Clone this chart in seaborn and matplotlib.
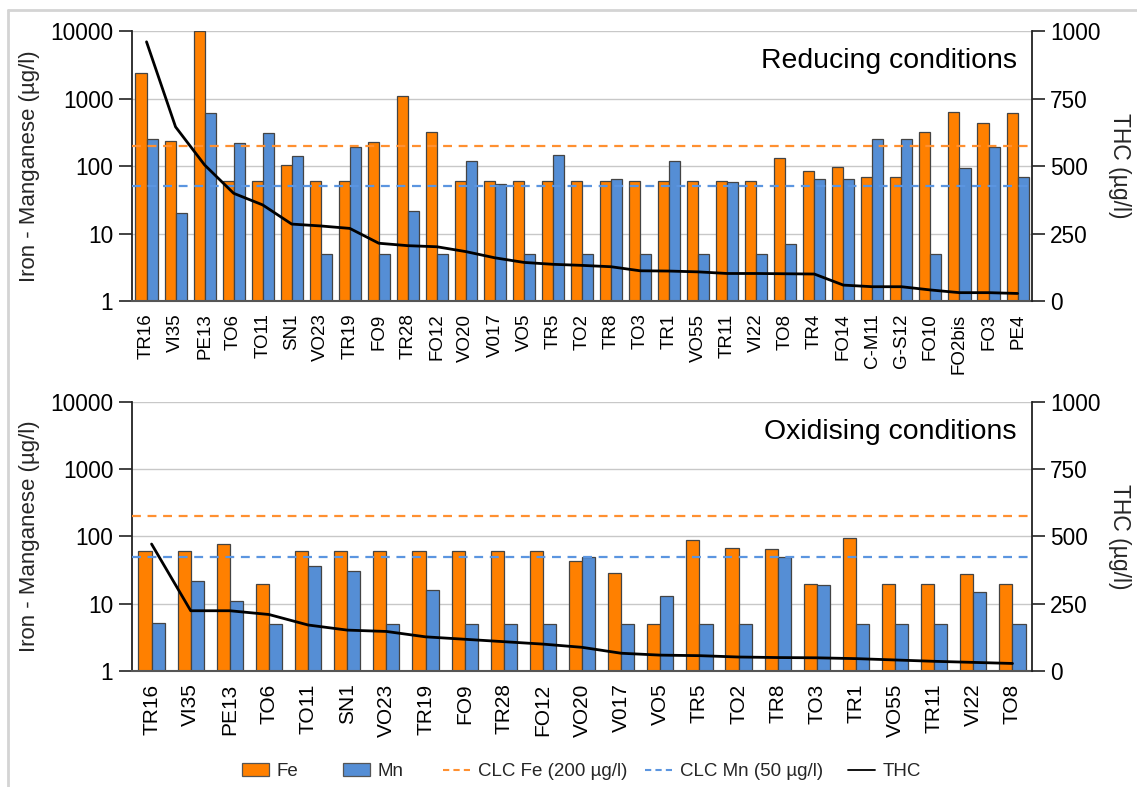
import numpy as np
import pandas as pd
import seaborn as sns
import matplotlib
matplotlib.use("Agg")
import matplotlib.pyplot as plt
from matplotlib.patches import Patch
from matplotlib.lines import Line2D

# --- Reducing conditions -------------------------------------------------
red_sites = ["TR16", "VI35", "PE13", "TO6", "TO11", "SN1", "VO23", "TR19", "FO9",
             "TR28", "FO12", "VO20", "V017", "VO5", "TR5", "TO2", "TR8", "TO3",
             "TR1", "VO55", "TR11", "VI22", "TO8", "TR4", "FO14", "C-M11", "G-S12",
             "FO10", "FO2bis", "FO3", "PE4"]
red_fe = [2410, 237, 10000, 60, 60, 105, 60, 60, 224, 1080, 322, 60, 60, 60, 60, 60,
          60, 60, 60, 60, 60, 60, 130, 84, 97, 69.5, 69.5, 322, 638, 433, 604]
red_mn = [249, 20.3, 604, 217, 305, 141, 5, 189, 5, 21.8, 5, 117, 55, 5, 144, 5,
          65, 5, 117, 5, 57, 5, 7, 64, 64, 251, 251, 5, 92, 193, 68.7]
red_thc = [960, 645, 504, 399, 356, 285, 278, 269, 214, 205, 201, 183, 160, 143, 136,
           132, 127, 112, 111, 108, 102, 102, 101, 100, 59, 53, 53, 41, 31, 31, 28]

# --- Oxidising conditions ------------------------------------------------
ox_sites = ["TR16", "VI35", "PE13", "TO6", "TO11", "SN1", "VO23", "TR19", "FO9",
            "TR28", "FO12", "VO20", "V017", "VO5", "TR5", "TO2", "TR8", "TO3",
            "TR1", "VO55", "TR11", "VI22", "TO8"]
ox_fe = [60, 60, 78, 20, 60, 60, 60, 60, 60, 60, 60, 43, 29, 5, 89, 66.5, 65, 20,
         96, 20, 20, 28, 20]
ox_mn = [5.1, 22, 11, 5, 37, 30.6, 5, 16, 5, 5, 5, 50, 5, 13, 5, 5, 50, 19,
         5, 5, 5, 15, 5]
ox_thc = [472, 224, 224, 210, 171, 152, 147, 127, 118, 109, 100, 88, 66, 59, 57,
          52, 50, 49, 46, 41, 36, 32, 28]

clc_fe = 200
clc_mn = 50
elements = ["Fe", "Mn"]
left_ticks = [1, 10, 100, 1000, 10000]
right_ticks = [0, 250, 500, 750, 1000]

FE_COLOR = "#FF8000"
MN_COLOR = "#558ED5"
CLC_FE_COLOR = "#FF9030"
CLC_MN_COLOR = "#5B95E0"
EDGE = "#444444"

sns.set_style("white")
plt.rcParams["font.family"] = ["Liberation Sans", "DejaVu Sans"]

fig = plt.figure(figsize=(11.37, 7.87), dpi=100)

panels = [
    (red_sites, red_fe, red_mn, red_thc, "Reducing conditions",
     [0.1161, 0.6175, 0.7916, 0.3431], 0.76, 13.5),
    (ox_sites, ox_fe, ox_mn, ox_thc, "Oxidising conditions",
     [0.1161, 0.1474, 0.7916, 0.3418], 0.67, 15),
]

for sites, fe, mn, thc, title, rect, bw, xfs in panels:
    ax = fig.add_axes(rect)
    df = pd.DataFrame({
        "site": sites * 2,
        "element": ["Fe"] * len(sites) + ["Mn"] * len(sites),
        "value": list(fe) + list(mn),
    })
    ax.set_yscale("log")
    sns.barplot(data=df, x="site", y="value", hue="element", hue_order=elements,
                palette=[FE_COLOR, MN_COLOR], saturation=1, width=bw, gap=0, ax=ax,
                edgecolor=EDGE, linewidth=0.9, legend=False, zorder=2)
    ax.set_ylim(1, 10000)
    ax.set_xlim(-0.5, len(sites) - 0.5)
    ax.set_yticks(left_ticks)
    ax.set_yticklabels([str(t) for t in left_ticks])
    ax.minorticks_off()
    ax.yaxis.grid(True, color="#c8c8c8", linewidth=1.0, zorder=0)
    ax.set_axisbelow(True)
    ax.axhline(clc_fe, color=CLC_FE_COLOR, linestyle=(0, (4, 3)), linewidth=1.6, zorder=3)
    ax.axhline(clc_mn, color=CLC_MN_COLOR, linestyle=(0, (4, 3)), linewidth=1.6, zorder=3)
    ax.set_xlabel("")
    ax.set_ylabel("Iron - Manganese (µg/l)", fontsize=16, labelpad=7)
    ax.tick_params(axis="y", which="major", direction="out", length=9.5, width=1.2,
                   colors="#222222", labelsize=16.3, pad=4, left=True)
    ax.tick_params(axis="x", length=0, labelsize=xfs, pad=9, labelrotation=90)
    for lab in ax.get_yticklabels() + ax.get_xticklabels():
        lab.set_color("black")
    for s in ["top", "right"]:
        ax.spines[s].set_visible(False)
    ax.spines["left"].set_color("#222222")
    ax.spines["left"].set_linewidth(1.3)
    ax.spines["bottom"].set_color("#555555")
    ax.spines["bottom"].set_linewidth(1.5)

    ax2 = ax.twinx()
    sns.lineplot(x=np.arange(len(sites)), y=thc, ax=ax2, color="black",
                 linewidth=2.0, sort=False, zorder=4)
    ax2.set_ylim(0, 1000)
    ax2.set_yticks(right_ticks)
    ax2.set_ylabel("THC (µg/l)", fontsize=16.5, rotation=270, labelpad=22)
    ax2.tick_params(axis="y", direction="out", length=9, width=1.2, colors="#222222",
                    labelsize=16.3, pad=4, right=True)
    for lab in ax2.get_yticklabels():
        lab.set_color("black")
    for s in ["top", "left", "bottom"]:
        ax2.spines[s].set_visible(False)
    ax2.spines["right"].set_color("#222222")
    ax2.spines["right"].set_linewidth(1.3)
    ax2.text(0.983, 0.889, title, transform=ax2.transAxes, ha="right", va="center",
             fontsize=20.4, color="black")

# legend entries laid out on a fixed grid along the bottom
entries = [
    (Patch(facecolor=FE_COLOR, edgecolor="#555555", linewidth=0.9), "Fe", 242),
    (Patch(facecolor=MN_COLOR, edgecolor="#555555", linewidth=0.9), "Mn", 343),
    (Line2D([], [], color=CLC_FE_COLOR, linestyle=(0, (3, 2)), linewidth=1.5),
     "CLC Fe (200 µg/l)", 443),
    (Line2D([], [], color=CLC_MN_COLOR, linestyle=(0, (3, 2)), linewidth=1.5),
     "CLC Mn (50 µg/l)", 645),
    (Line2D([], [], color="black", linewidth=1.3), "THC", 848),
]
for handle, label, xpix in entries:
    fig.legend([handle], [label], loc="center left",
               bbox_to_anchor=(xpix / 1137, 1 - 771.5 / 787), frameon=False,
               fontsize=13.5, handlelength=1.45, handleheight=0.7, handletextpad=0.4,
               borderpad=0, borderaxespad=0)

# light frame around the figure
fig.add_artist(Line2D([0.007, 1.0], [0.9873, 0.9873], transform=fig.transFigure,
                      color="#d4d4d4", linewidth=2))
fig.add_artist(Line2D([0.007, 0.007], [0.0, 0.9873], transform=fig.transFigure,
                      color="#d4d4d4", linewidth=2))

fig.savefig("out.png", dpi=100)
